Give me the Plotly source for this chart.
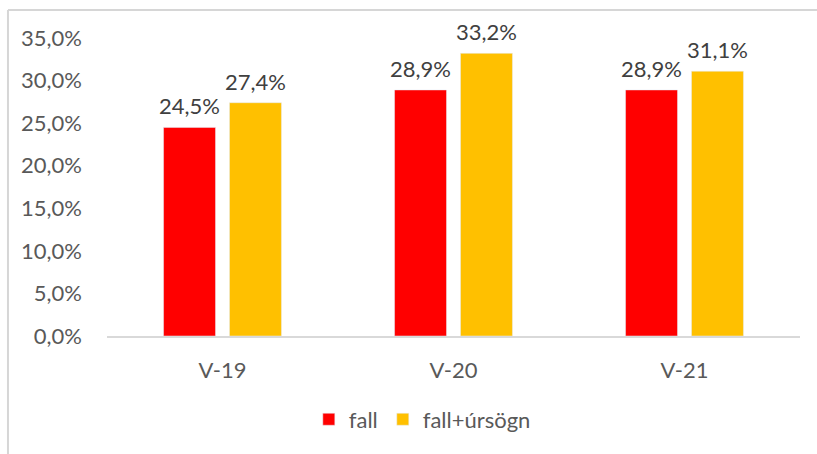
import plotly.graph_objects as go

categories = ["V-19", "V-20", "V-21"]
fall = [0.245, 0.289, 0.289]
fall_ursogn = [0.274, 0.332, 0.311]
series_names = ["fall", "fall+úrsögn"]
y_ticks = [0, 0.05, 0.10, 0.15, 0.20, 0.25, 0.30, 0.35]

FONT = "Lato, Carlito, Calibri, sans-serif"
FS = 22

fig = go.Figure()
fig.add_trace(go.Bar(
    x=categories, y=fall, name=series_names[0],
    marker=dict(color="#FF0000"),
))
fig.add_trace(go.Bar(
    x=categories, y=fall_ursogn, name=series_names[1],
    marker=dict(color="#FFC000"),
))

# data labels above bars, built from the series arrays
annotations = []
for values, shift in ((fall, -33), (fall_ursogn, 33)):
    for cat, v in zip(categories, values):
        annotations.append(dict(
            x=cat, y=v, xref="x", yref="y", text=f"{v*100:.1f}%".replace(".", ","),
            showarrow=False, xshift=shift, yshift=6, yanchor="bottom", xanchor="center",
            font=dict(family=FONT, size=FS, color="#404040"),
        ))

border = dict(color="#D6D6D6", width=2)
fig.update_layout(
    width=817, height=454,
    margin=dict(l=107, r=17, t=38, b=118),
    paper_bgcolor="white", plot_bgcolor="white",
    separators=", ",
    barmode="group", bargap=0.429, bargroupgap=0.212,
    font=dict(family=FONT, size=FS, color="#595959"),
    showlegend=True,
    legend=dict(orientation="h", x=0.455, xanchor="center", y=-0.28, yanchor="middle",
                font=dict(family=FONT, size=FS, color="#595959"),
                traceorder="normal"),
    xaxis=dict(showline=True, linecolor="#D9D9D9", linewidth=1.5, showgrid=False,
               ticks="", ticklabelstandoff=14, tickfont=dict(size=FS, color="#595959")),
    yaxis=dict(range=[0, 0.35], tickvals=y_ticks, tickformat=".1%", showgrid=False,
               zeroline=False, showline=False, ticks="", ticklabelstandoff=24,
               tickfont=dict(size=FS, color="#595959")),
    annotations=annotations,
    shapes=[
        dict(type="line", xref="paper", yref="paper", x0=-0.1429, x1=1.0,
             y0=1.094, y1=1.094, line=border),
        dict(type="line", xref="paper", yref="paper", x0=1.0, x1=1.0245,
             y0=1.094, y1=1.094, line=border),
        dict(type="line", xref="paper", yref="paper", x0=-0.1429, x1=-0.1429,
             y0=-0.45, y1=1.094, line=border),
    ],
)

fig.write_html("out.html", config={"displayModeBar": False},
               post_script="document.body.style.margin='0';")
